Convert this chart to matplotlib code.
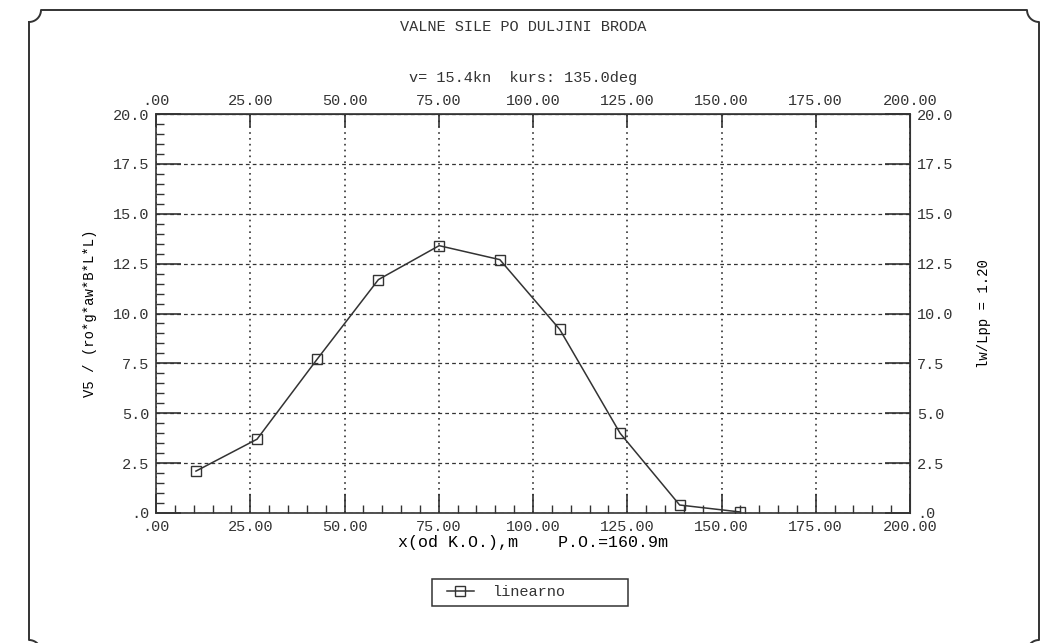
import numpy as np
import matplotlib
matplotlib.use('Agg')
import matplotlib.pyplot as plt
from matplotlib.lines import Line2D
from matplotlib.patches import Rectangle
from matplotlib.ticker import FuncFormatter, MultipleLocator

# wave force along ship length, linear interpolation
x_pos = [10.6, 26.8, 42.7, 59.0, 75.1, 91.2, 107.1, 123.1, 138.9, 155.0]
v5 = [2.1, 3.7, 7.7, 11.7, 13.4, 12.7, 9.2, 4.0, 0.4, 0.05]
series_name = 'linearno'

title = 'VALNE SILE PO DULJINI BRODA'
subtitle = 'v= 15.4kn  kurs: 135.0deg'
xlab = 'x(od K.O.),m    P.O.=160.9m'
ylab = 'V5 / (ro*g*aw*B*L*L)'
ylab_right = 'lw/Lpp = 1.20'

ink = '#333333'
plt.rcParams['font.family'] = ['Liberation Mono', 'DejaVu Sans Mono']
plt.rcParams['text.color'] = ink
plt.rcParams['axes.edgecolor'] = ink
plt.rcParams['xtick.color'] = ink
plt.rcParams['ytick.color'] = ink

W, H = 1047, 643
fig = plt.figure(figsize=(W / 100, H / 100), dpi=100)
ax = fig.add_axes([156 / W, 1 - 513 / H, 754 / W, 399 / H])

def fx(v, pos):
    s = '%.2f' % v
    return s[1:] if s.startswith('0') else s

def fy(v, pos):
    s = '%.1f' % v
    return s[1:] if s.startswith('0') else s

ax.plot(x_pos, v5, '-', color=ink, lw=1.1, marker='s', ms=7.5,
        mfc='none', mec=ink, mew=1.0, label=series_name, zorder=3)
ax.set_xlim(0, 200)
ax.set_ylim(0, 20)

ax.xaxis.set_major_locator(MultipleLocator(25))
ax.xaxis.set_minor_locator(MultipleLocator(5))
ax.yaxis.set_major_locator(MultipleLocator(2.5))
ax.yaxis.set_minor_locator(MultipleLocator(0.5))
ax.xaxis.set_major_formatter(FuncFormatter(fx))
ax.yaxis.set_major_formatter(FuncFormatter(fy))
ax.tick_params(axis='x', which='major', direction='in', length=14, width=1.2,
               labelsize=11, pad=5)
ax.tick_params(axis='x', which='minor', direction='in', length=6, width=1.0)
ax.tick_params(axis='y', which='major', direction='in', length=18, width=1.2,
               labelsize=11, pad=5)
ax.tick_params(axis='y', which='minor', direction='in', length=6, width=1.0)

ax.grid(True, axis='x', which='major', ls=(0, (1, 2.5)), color=ink, lw=1.2)
ax.grid(True, axis='y', which='major', ls=(0, (3, 2.5)), color=ink, lw=0.9)
for s in ax.spines.values():
    s.set_linewidth(1.2)

# top and right scales repeat the same values
top = ax.secondary_xaxis('top')
top.xaxis.set_major_locator(MultipleLocator(25))
top.xaxis.set_major_formatter(FuncFormatter(fx))
top.tick_params(axis='x', direction='in', length=9, width=1.2, labelsize=11, pad=4)
right = ax.secondary_yaxis('right')
right.yaxis.set_major_locator(MultipleLocator(2.5))
right.yaxis.set_major_formatter(FuncFormatter(fy))
right.tick_params(axis='y', direction='in', length=18, width=1.2, labelsize=11, pad=5)
right.set_ylabel(ylab_right, fontsize=10, labelpad=17)

ax.set_xlabel(xlab, fontsize=12, labelpad=1)
ax.set_ylabel(ylab, fontsize=10, labelpad=11)

fig.text(0.5, 1 - 27 / H, title, ha='center', va='center', fontsize=11)
fig.text(0.5, 1 - 78 / H, subtitle, ha='center', va='center', fontsize=11)

# legend box drawn wider than its contents
fig.add_artist(Rectangle((432 / W, 1 - 606 / H), 196 / W, 27 / H,
                         transform=fig.transFigure, fill=False,
                         ec=ink, lw=1.1))
fig.legend(loc='center left', bbox_to_anchor=(436 / W, 1 - 592.5 / H),
           fontsize=11, frameon=False, handlelength=1.8,
           borderpad=0.2, handletextpad=1.2)

# page frame with notched corners
def corner(cx, cy, a0, a1, r=12):
    t = np.linspace(np.radians(a0), np.radians(a1), 12)
    return list(cx + r * np.cos(t)), list(cy + r * np.sin(t))

L, R, T, B = 29, 1039, 10, 652
px, py = [], []
for cx, cy, a0, a1 in [(L, T, 90, 0), (R, T, 180, 90), (R, B, 270, 180), (L, B, 360, 270)]:
    xs, ys = corner(cx, cy, a0, a1)
    px += xs
    py += ys
px.append(px[0])
py.append(py[0])
fig.add_artist(Line2D(np.array(px) / W, 1 - np.array(py) / H,
                      transform=fig.transFigure, color=ink, lw=1.4))

fig.savefig('out.png', dpi=100)
